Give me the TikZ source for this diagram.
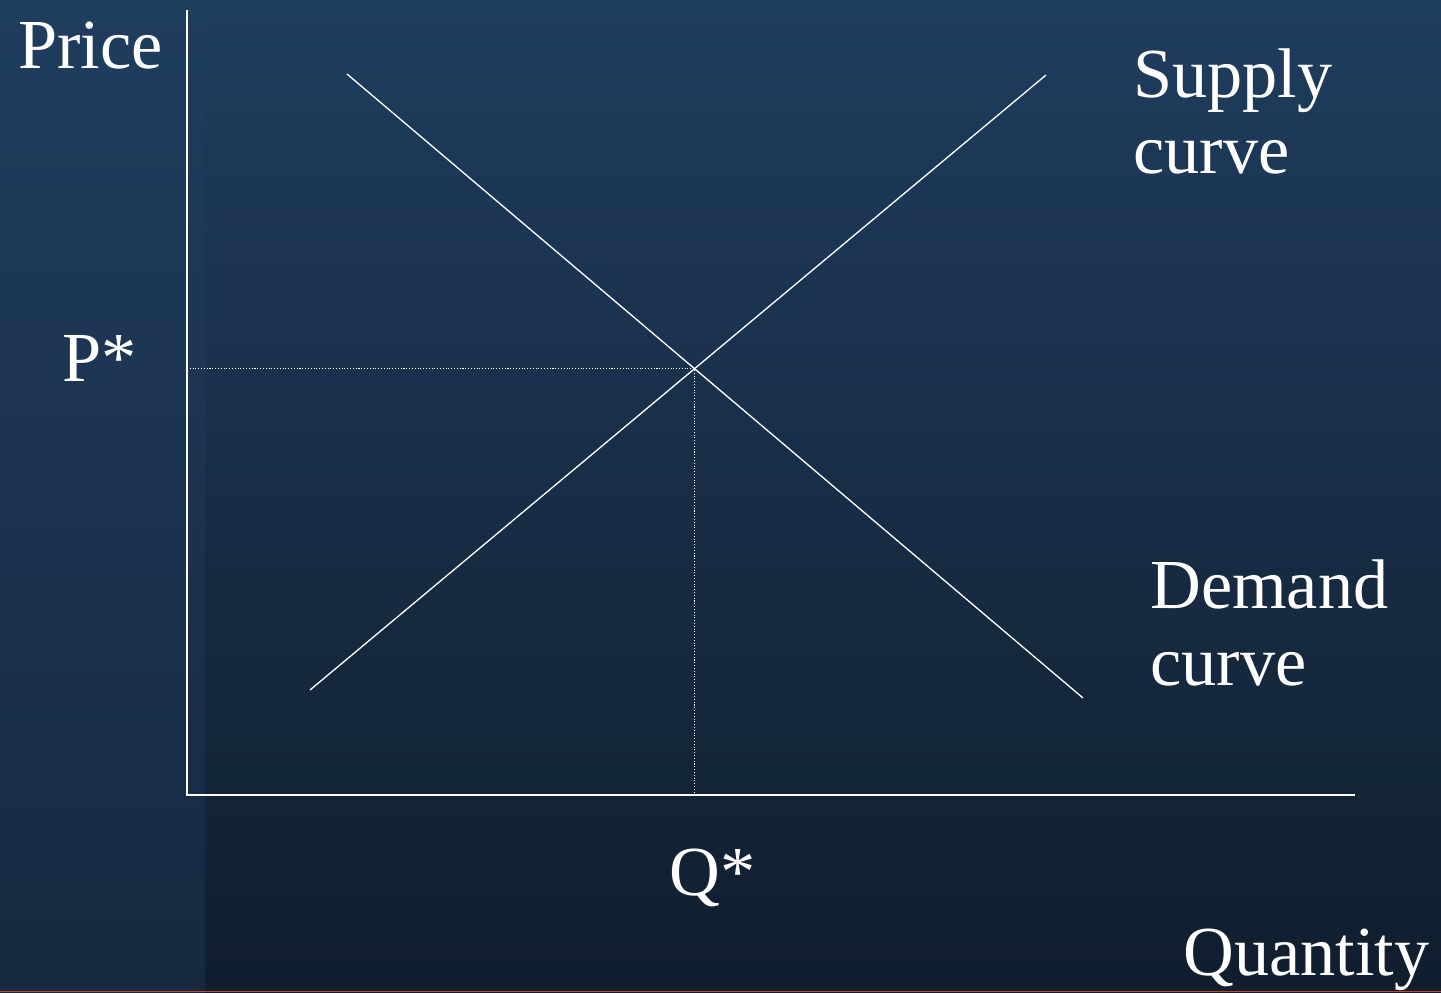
\documentclass[tikz,border=0pt]{standalone}
\usepackage{fontspec}
\setmainfont{Liberation Serif}
\definecolor{bgtop}{RGB}{31,61,94}
\definecolor{bgbot}{RGB}{16,30,46}
\definecolor{stripbot}{RGB}{22,41,64}
\definecolor{slideline}{RGB}{196,72,40}
\tikzset{
  lbl/.style={text=white, inner sep=0pt, anchor=base west, font=\fontsize{40}{46}\selectfont},
  curve/.style={white, line width=0.75pt},
  guide/.style={white, line width=0.6pt, densely dotted}
}
\begin{document}
\begin{tikzpicture}[x=0.02cm, y=-0.02cm]
	\useasboundingbox (0,0) rectangle (1441,992);
	\shade[top color=bgtop, bottom color=bgbot] (0,0) rectangle (1441,992);
	\shade[top color=bgtop, bottom color=stripbot] (0,0) rectangle (205,992);
	\fill[slideline] (0,990.5) rectangle (1441,992);
	%\draw[dotted] (0,0) grid (1441,992);
	\coordinate (O) at (187,795);
	\coordinate (ytop) at (187,10);
	\coordinate (xend) at (1355,795);
	\draw[white, line width=1.1pt] (ytop) -- (O) -- (xend);
	\coordinate (d1) at (347,74);
	\coordinate (d2) at (1083,698);
	\coordinate (s1) at (310,690);
	\coordinate (s2) at (1046,75);
	\draw[curve] (d1) -- (d2);
	\draw[curve] (s1) -- (s2);
	\coordinate (eq) at (intersection of d1--d2 and s1--s2);
	\draw[guide] (eq -| O) -- (eq) -- (eq |- O);
	\node[lbl] (price) at (18,68) {Price};
	\node[lbl] (pstar) at (62,381) {P*};
	\node[lbl] (qstar) at (669,895) {Q*};
	\node[lbl] (supply) at (1133,97) {Supply};
	\node[lbl] (supply2) at (1133,173) {curve};
	\node[lbl] (demand) at (1150,608) {Demand};
	\node[lbl] (demand2) at (1150,685) {curve};
	\node[lbl] (qty) at (1183,975) {Quantity};
\end{tikzpicture}
\end{document}
